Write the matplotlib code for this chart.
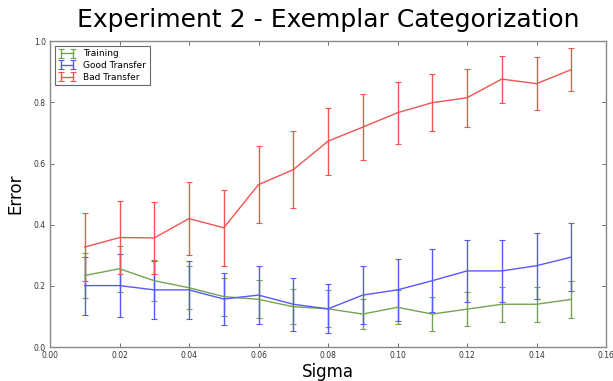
import matplotlib
matplotlib.use("Agg")
import matplotlib.pyplot as plt

sigma = [0.01, 0.02, 0.03, 0.04, 0.05, 0.06, 0.07, 0.08, 0.09, 0.10, 0.11, 0.12, 0.13, 0.14, 0.15]

training = [0.234, 0.256, 0.217, 0.194, 0.165, 0.156, 0.132, 0.125, 0.108, 0.130, 0.108, 0.124, 0.140, 0.140, 0.156]
training_err = [0.074, 0.076, 0.067, 0.070, 0.062, 0.062, 0.058, 0.060, 0.050, 0.056, 0.055, 0.055, 0.058, 0.058, 0.061]

good = [0.201, 0.201, 0.187, 0.187, 0.157, 0.170, 0.140, 0.125, 0.170, 0.187, 0.217, 0.249, 0.249, 0.266, 0.294]
good_err = [0.095, 0.102, 0.094, 0.094, 0.086, 0.095, 0.086, 0.080, 0.096, 0.101, 0.102, 0.101, 0.101, 0.108, 0.112]

bad = [0.327, 0.358, 0.357, 0.420, 0.390, 0.531, 0.580, 0.673, 0.719, 0.766, 0.799, 0.815, 0.876, 0.861, 0.907]
bad_err = [0.110, 0.120, 0.118, 0.118, 0.125, 0.125, 0.126, 0.109, 0.109, 0.101, 0.094, 0.094, 0.077, 0.086, 0.071]

labels = ["Training", "Good Transfer", "Bad Transfer"]
colors = ["#74a352", "#5858ff", "#f25353"]

fig = plt.figure(figsize=(6.13, 3.81), dpi=100)
ax = fig.add_axes([0.0816, 0.089, 0.907, 0.803])

for y, e, lab, c in zip([training, good, bad], [training_err, good_err, bad_err], labels, colors):
    ax.errorbar(sigma, y, yerr=e, color=c, ecolor=c, lw=1.0, elinewidth=1.0,
                capsize=2, capthick=0.8, label=lab)

ax.set_xlim(0, 0.16)
ax.set_ylim(0, 1.0)
ax.set_xticks([0.00, 0.02, 0.04, 0.06, 0.08, 0.10, 0.12, 0.14, 0.16])
ax.set_yticks([0.0, 0.2, 0.4, 0.6, 0.8, 1.0])
ax.set_xticklabels(["0.00", "0.02", "0.04", "0.06", "0.08", "0.10", "0.12", "0.14", "0.16"])
ax.set_yticklabels(["0.0", "0.2", "0.4", "0.6", "0.8", "1.0"])
ax.tick_params(direction="in", top=True, right=True, labelsize=5.5, length=3, width=0.5, colors="#333333", pad=3)
for s in ax.spines.values():
    s.set_color("#888888")
    s.set_linewidth(1.0)

ax.set_title("Experiment 2 - Exemplar Categorization", fontsize=18, pad=10)
ax.set_xlabel("Sigma", fontsize=12, labelpad=2)
ax.set_ylabel("Error", fontsize=12, labelpad=7)

leg = ax.legend(loc="upper left", fontsize=6.5, frameon=True, fancybox=False, numpoints=2,
                borderpad=0.4, handlelength=2.0, labelspacing=0.3)
leg.get_frame().set_edgecolor("#444444")
leg.get_frame().set_linewidth(0.8)

fig.savefig("out.png", dpi=100)
